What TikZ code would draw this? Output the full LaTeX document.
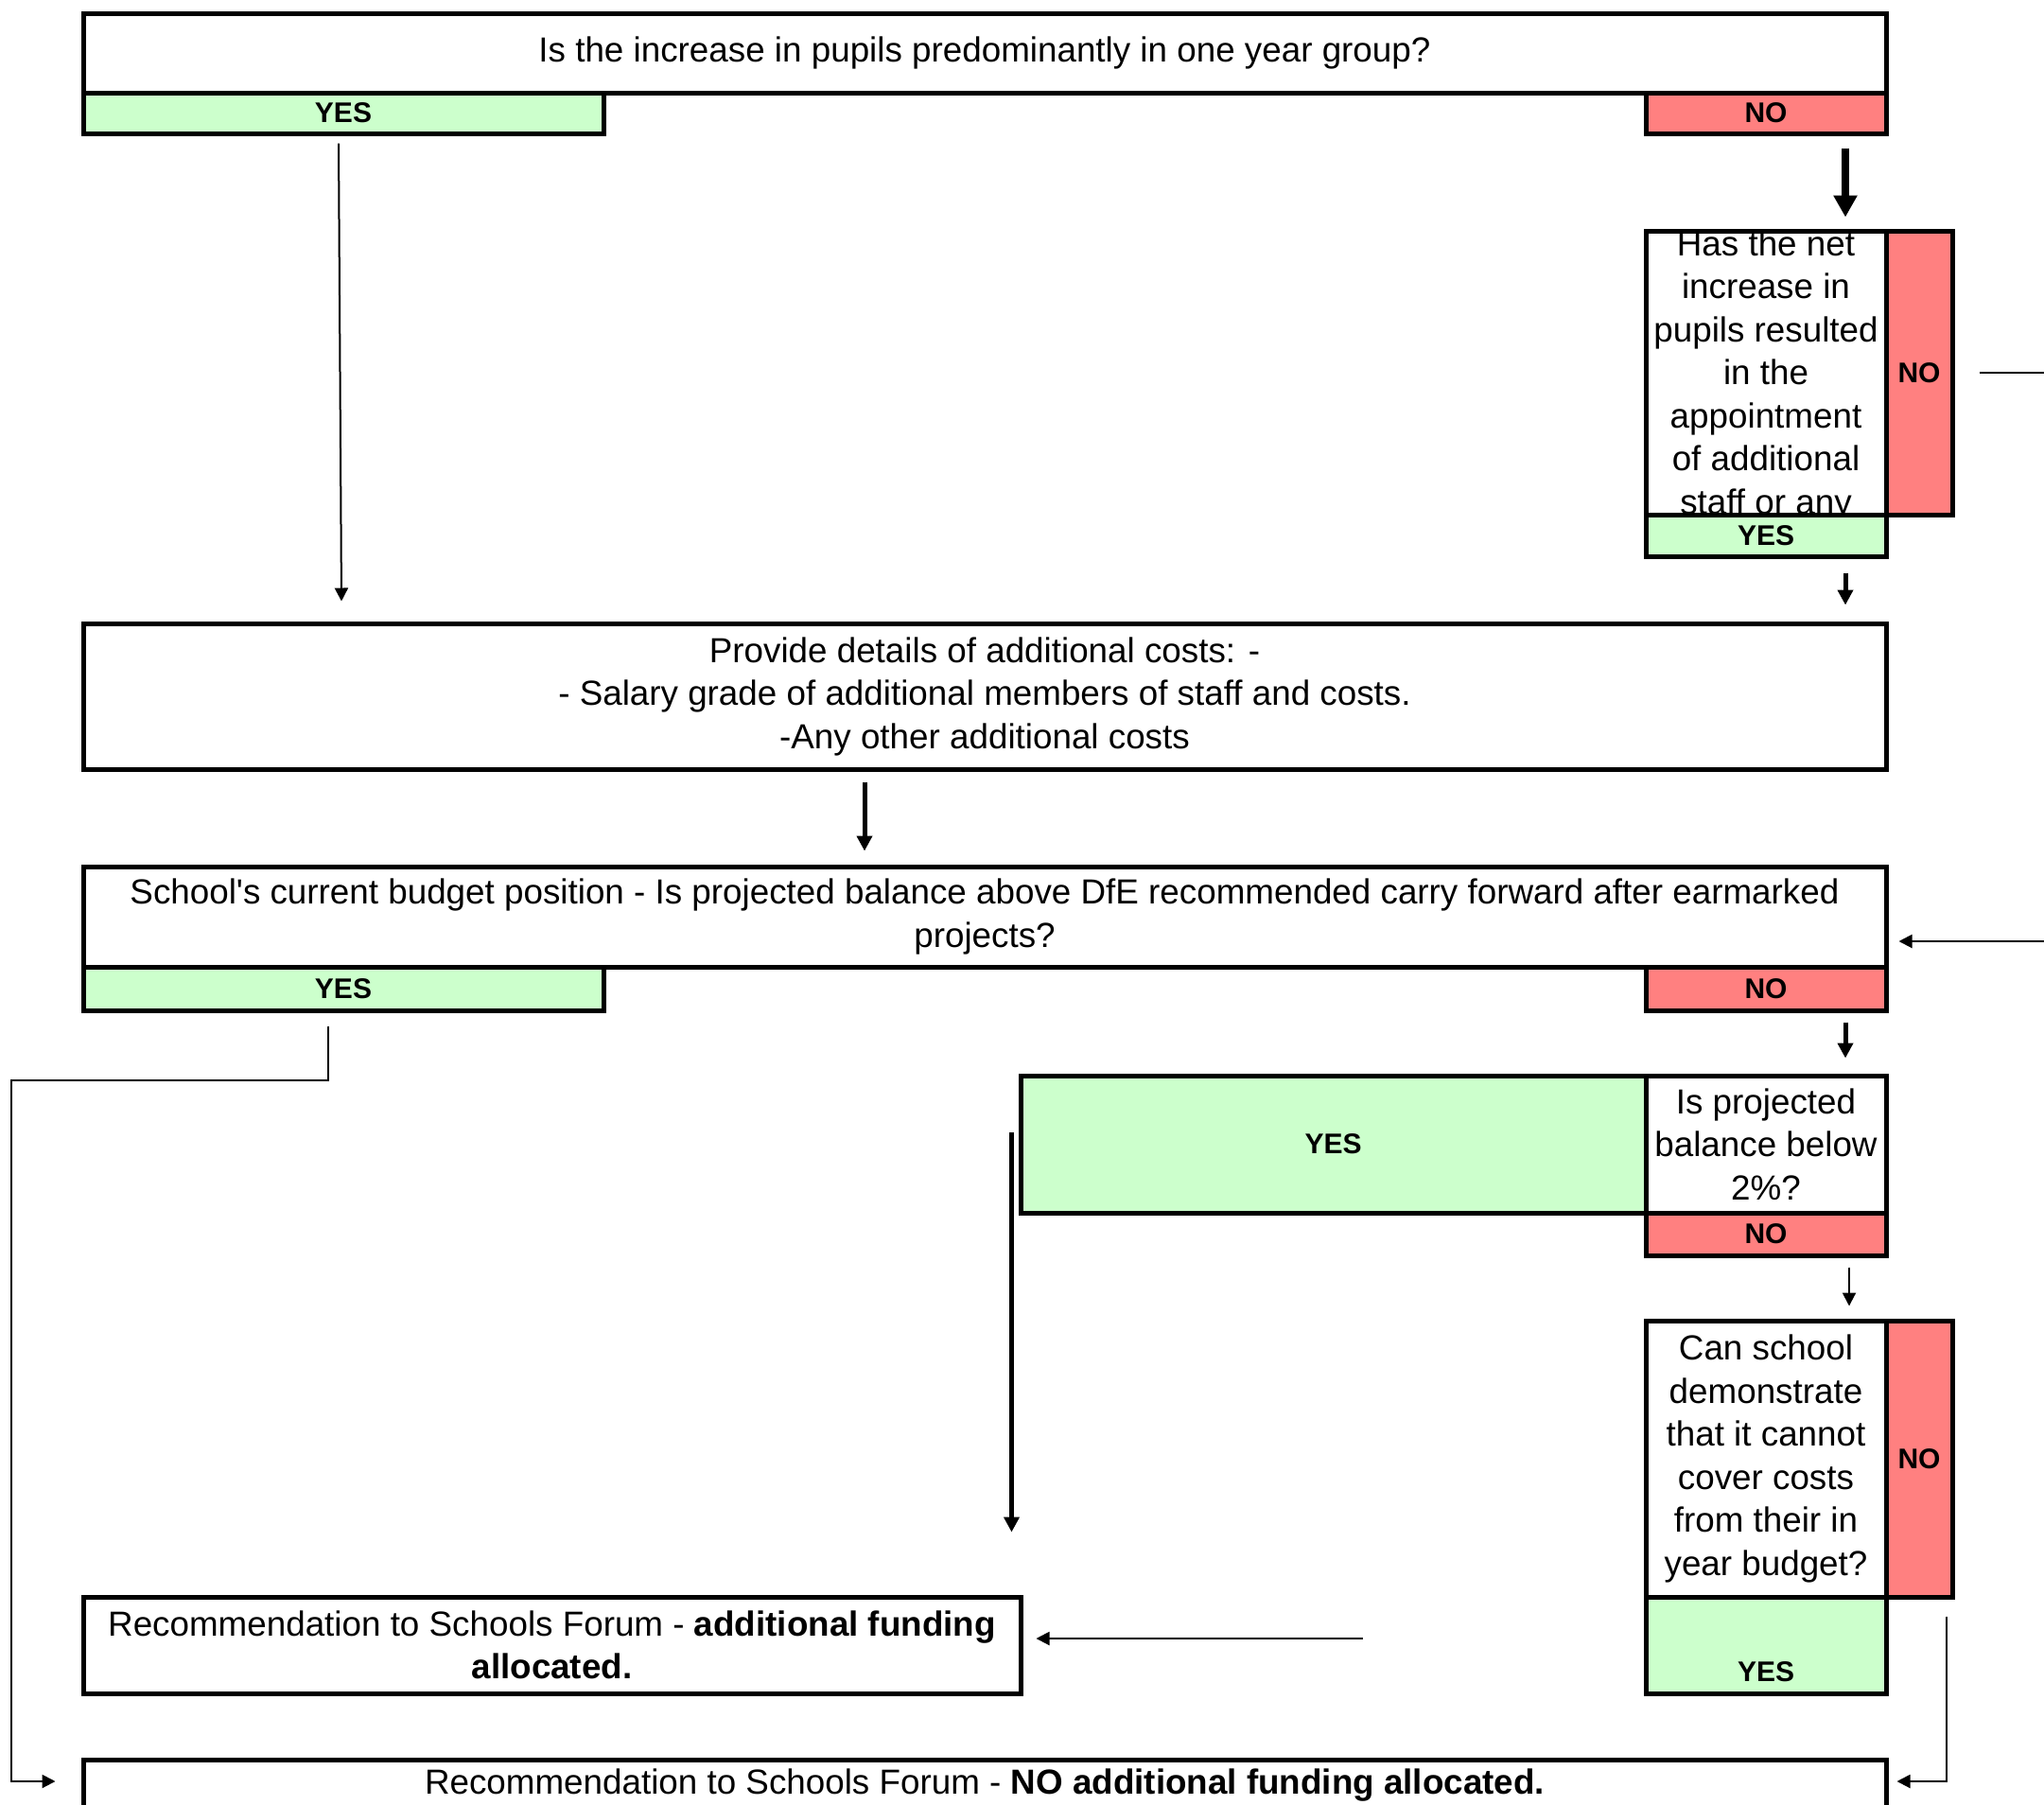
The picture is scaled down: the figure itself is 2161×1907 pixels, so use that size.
\documentclass[tikz,border=0pt]{standalone}
\usepackage{fontspec}
\setmainfont{Liberation Sans}
\usetikzlibrary{arrows.meta,calc}
\definecolor{yesgreen}{HTML}{CCFFCC}
\definecolor{nored}{HTML}{FF8080}
\begin{document}
\begin{tikzpicture}[x=1pt,y=-1pt,
  box/.style={draw, line width=5pt, inner sep=0pt, align=center, fill=white,
    font=\fontsize{36.8}{45.5}\selectfont},
  yesbox/.style={box, fill=yesgreen, font=\bfseries\fontsize{30}{36}\selectfont},
  nobox/.style={box, fill=nored, font=\bfseries\fontsize{30}{36}\selectfont},
  lbl/.style={inner sep=0pt, font=\bfseries\fontsize{30}{36}\selectfont},
  bigarrow/.style={line width=8pt, -{Triangle[length=23pt,width=24pt]}},
  midarrow/.style={line width=5pt, -{Triangle[length=16pt,width=16pt]}},
  thinarrow/.style={line width=2pt, -{Triangle[length=14pt,width=14pt]}},
  thinline/.style={line width=2pt}
]
\useasboundingbox (0,0) rectangle (2161,1907);
\clip (0,0) rectangle (2161,1907);
\fill[white] (0,0) rectangle (2161,1907);

% first question
\node[box, minimum width=1906pt, minimum height=84pt] (q1) at (1041,56)
  {Is the increase in pupils predominantly in one year group?};
\node[yesbox, minimum width=550pt, minimum height=43pt] (yes1) at (363,119.5) {YES};
\node[nobox, minimum width=254pt, minimum height=43pt] (no1) at (1867,119.5) {NO};

% second question
\node[box, minimum width=254pt, minimum height=300pt] (q2) at (1867,394) {};
\begin{scope}
  \clip ($(q2.north west)+(2.5,2.5)$) rectangle ($(q2.south east)+(-2.5,-2.5)$);
  \node[inner sep=0pt, align=center, font=\fontsize{36.8}{45.5}\selectfont] (q2text) at (1867,397)
    {Has the net\\increase in\\pupils resulted\\in the\\appointment\\of additional\\staff or any};
\end{scope}
\node[nobox, minimum width=70pt, minimum height=300pt] (no2) at (2029,394) {NO};
\node[yesbox, minimum width=254pt, minimum height=44pt] (yes2) at (1867,566) {YES};

% details
\node[box, minimum width=1906pt, minimum height=154pt] (details) at (1041,736)
  {Provide details of additional costs: -\\- Salary grade of additional members of staff and costs.\\-Any other additional costs};

% budget question
\node[box, minimum width=1906pt, minimum height=106pt] (q3) at (1041,969)
  {School\textquotesingle s current budget position - Is projected balance above DfE recommended carry forward after earmarked\\projects?};
\node[yesbox, minimum width=550pt, minimum height=46pt] (yes3) at (363,1045) {YES};
\node[nobox, minimum width=254pt, minimum height=46pt] (no3) at (1867,1045) {NO};

% below 2%
\node[box, minimum width=254pt, minimum height=145pt] (q4) at (1867,1209.5)
  {Is projected\\balance below\\2\%?};
\node[yesbox, minimum width=661pt, minimum height=145pt] (yes4) at (1409.5,1209.5) {YES};
\node[nobox, minimum width=254pt, minimum height=45pt] (no4) at (1867,1304.5) {NO};

% can school demonstrate
\node[box, minimum width=254pt, minimum height=292pt] (q5) at (1867,1542)
  {Can school\\demonstrate\\that it cannot\\cover costs\\from their in\\year budget?};
\node[nobox, minimum width=70pt, minimum height=292pt] (no5) at (2029,1542) {NO};
\node[yesbox, minimum width=254pt, minimum height=102pt] (yes5) at (1867,1739) {};
\node[lbl] (yes5t) at (1867,1767) {YES};

% recommendations
\node[box, minimum width=991pt, minimum height=102pt] (rec1) at (583.5,1739)
  {Recommendation to Schools Forum - \textbf{additional funding}\\\textbf{allocated.}};
\node[box, minimum width=1906pt, minimum height=54pt] (rec2) at (1041,1887)
  {Recommendation to Schools Forum - \textbf{NO additional funding allocated.}};

% connectors
\draw[bigarrow] ($(no1.south)+(84,13)$) -- ($(q2.north)+(84,-12)$);
\draw[thinarrow] ($(yes1.south)+(-5,8)$) -- ($(yes1.south |- details.north)+(-2,-21)$);
\coordinate (offright) at (2175,394);
\draw[thinline] ($(no2.east)+(26,0)$) -- (offright);
\draw[thinarrow] (offright) |- ($(q3.east)+(11,26)$);
\draw[midarrow] ($(yes2.south)+(84,15)$) -- ($(yes2.south |- details.north)+(84,-17)$);
\draw[midarrow] ($(details.south)+(-127,11)$) -- ($(details.south |- q3.north)+(-127,-14)$);
\draw[thinarrow] ($(yes3.south)+(-16,14)$) -- ++(0,57) -| ($(rec2.west)+(-74,-4)$) -- ($(rec2.west)+(-27,-4)$);
\draw[midarrow] ($(no3.south)+(84,10)$) -- ($(no3.south |- q4.north)+(84,-16)$);
\draw[midarrow] ($(yes4.west)+(-7,-13)$) -- ($(yes4.west |- rec1.north)+(-7,-66)$);
\draw[thinarrow] ($(no4.south)+(88,10)$) -- ($(no4.south |- q5.north)+(88,-13)$);
\coordinate (freestart) at (1441,1732);
\draw[thinarrow] (freestart) -- ($(rec1.east)+(14,-7)$);
\draw[thinarrow] ($(no5.south)+(29,18)$) |- ($(rec2.east)+(9,-4)$);
\end{tikzpicture}
\end{document}
